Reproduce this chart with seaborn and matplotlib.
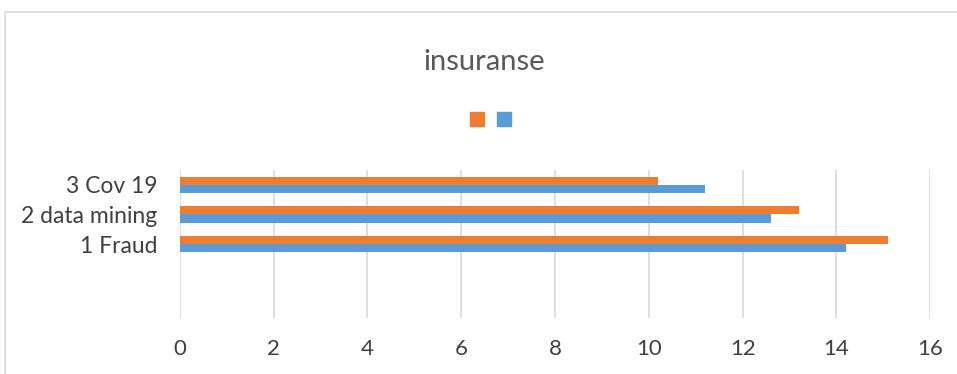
import numpy as np
import pandas as pd
import seaborn as sns
import matplotlib.pyplot as plt
from matplotlib.patches import Rectangle
from matplotlib.lines import Line2D

categories = ["3 Cov 19", "2 data mining", "1 Fraud"]
series_orange = [10.2, 13.2, 15.1]
series_blue = [11.2, 12.6, 14.2]
series_names = ["Series2", "Series1"]
xticks = [0, 2, 4, 6, 8, 10, 12, 14, 16]

df = pd.DataFrame({
    "cat": categories * 2,
    "value": series_orange + series_blue,
    "series": [series_names[0]] * 3 + [series_names[1]] * 3,
})

sns.set_style("white")
plt.rcParams["font.family"] = ["Lato", "DejaVu Sans"]

fig = plt.figure(figsize=(9.57, 3.74), dpi=100)
ax = fig.add_axes([0.188, 0.150, 0.784, 0.395])

sns.barplot(data=df, y="cat", x="value", hue="series", orient="h",
            hue_order=series_names, order=categories,
            palette=["#ED7D31", "#5B9BD5"], width=0.56, ax=ax,
            legend=False, saturation=1, linewidth=0)

ax.set_xlim(0, 16)
ax.set_ylim(4.5, -0.5)
ax.set_xticks(xticks)
ax.set_xticklabels([str(t) for t in xticks])
ax.grid(axis="x", color="#d9d9d9", linewidth=1.2)
ax.set_axisbelow(True)
for s in ax.spines.values():
    s.set_visible(False)
ax.tick_params(axis="x", length=0, pad=15, labelsize=16, colors="#404040")
ax.tick_params(axis="y", length=0, pad=16, labelsize=16.5, colors="#404040")
ax.set_xlabel("")
ax.set_ylabel("")

fig.text(0.506, 0.834, "insuranse", ha="center", va="center",
         fontsize=21, color="#595959")

handles = [Line2D([], [], marker="s", linestyle="", markersize=9.4,
                  markerfacecolor=c, markeredgecolor=c)
           for c in ["#ED7D31", "#5B9BD5"]]
fig.legend(handles, ["", ""], ncol=2, frameon=False, loc="center",
           bbox_to_anchor=(0.513, 0.680), handletextpad=0.0,
           handlelength=1.0, columnspacing=0.95, fontsize=10)

fig.patches.append(Rectangle((0.005, -0.1), 1.2, 1.068,
                             transform=fig.transFigure, fill=False,
                             edgecolor="#d9d9d9", linewidth=1.2))

fig.savefig("out.png", dpi=100)
